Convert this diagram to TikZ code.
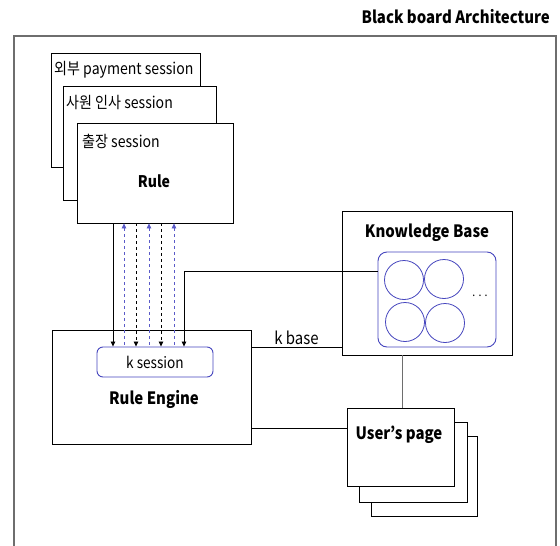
\documentclass[tikz,border=0pt]{standalone}
\usepackage{fontspec}
\setmainfont{Noto Sans CJK KR}[FakeStretch=0.88]
\usetikzlibrary{arrows.meta}
\definecolor{bblue}{RGB}{70,70,190}
\definecolor{dblue}{RGB}{90,90,200}
\definecolor{frame}{RGB}{110,110,110}
\tikzset{
  box/.style={draw=black, fill=white, line width=0.8pt, inner sep=0pt},
  bluebox/.style={draw=bblue, fill=white, line width=0.9pt, rounded corners=6pt, inner sep=0pt},
  circ/.style={draw=bblue, circle, line width=0.8pt, minimum size=39pt, inner sep=0pt},
  lbl/.style={font=\fontsize{16}{18}\selectfont, anchor=west, inner sep=0pt},
  bold/.style={font=\fontsize{17}{19}\selectfont\bfseries, inner sep=0pt},
  conn/.style={draw=black, line width=0.8pt},
  tip/.style={-{Triangle[length=5pt,width=4.5pt]}},
  rtip/.style={{Triangle[length=5pt,width=4.5pt]}-},
}
\begin{document}
\begin{tikzpicture}[x=1pt,y=-1pt]
\useasboundingbox (0,0) rectangle (560,546);
\begin{scope}
\clip (0,0) rectangle (560,546);
\draw[frame, line width=1.5pt] (14,36) rectangle (556,560);
\end{scope}
\node[font=\fontsize{17}{19}\selectfont\bfseries, anchor=east, inner sep=0pt] (title) at (550,17) {Black board Architecture};
% session stack
\node[box, minimum width=149pt, minimum height=114pt] (s1) at (125.5,110) {};
\node[lbl] (t1) at (54,70) {외부 payment session};
\node[box, minimum width=153pt, minimum height=114pt] (s2) at (139.5,143) {};
\node[lbl] (t2) at (66,103) {사원 인사 session};
\node[box, minimum width=156pt, minimum height=100pt] (rule) at (155,173) {};
\node[lbl] (t3) at (82,141) {출장 session};
\node[bold, font=\fontsize{16}{18}\selectfont\bfseries] (rulet) at (154,181) {Rule};
% rule engine
\node[box, minimum width=199pt, minimum height=114pt] (re) at (151.5,387) {};
\node[bluebox, minimum width=116pt, minimum height=30pt, font=\fontsize{15.5}{17}\selectfont] (ks) at (155,362) {k session};
\node[bold] (ret) at (154,399) {Rule Engine};
% knowledge base
\node[box, minimum width=170pt, minimum height=144pt] (kb) at (427,283) {};
\node[bold] (kbt) at (427,233) {Knowledge Base};
\node[bluebox, minimum width=118pt, minimum height=95pt, rounded corners=9pt] (inner) at (437,299.5) {};
\node[circ] (c1) at (404,280) {};
\node[circ] (c2) at (444,279) {};
\node[circ] (c3) at (405,322) {};
\node[circ] (c4) at (445,323) {};
\node[font=\fontsize{12}{14}\selectfont, inner sep=0pt] (dots) at (480,296) {. . .};
% user's page
\node[box, minimum width=106pt, minimum height=80pt] (u3) at (424,476) {};
\node[box, minimum width=108pt, minimum height=80pt] (u2) at (413,462) {};
\node[box, minimum width=107pt, minimum height=78pt] (up) at (400.5,447) {};
\node[bold] (upt) at (399,435) {User's page};
% arrows between Rule and k session
\coordinate (a1) at (113,0);
\coordinate (a2) at (124,0);
\coordinate (a3) at (136,0);
\coordinate (a4) at (149,0);
\coordinate (a5) at (161,0);
\coordinate (a6) at (174,0);
\coordinate (a7) at (184,271);
\draw[conn, tip] (rule.south -| a1) -- (ks.north -| a1);
\draw[draw=dblue, line width=0.8pt, dashed, rtip] (rule.south -| a2) -- (ks.north -| a2);
\draw[conn, dashed, tip] (rule.south -| a3) -- (ks.north -| a3);
\draw[draw=dblue, line width=0.8pt, dashed, rtip] (rule.south -| a4) -- (ks.north -| a4);
\draw[conn, dashed, tip] (rule.south -| a5) -- (ks.north -| a5);
\draw[draw=dblue, line width=0.8pt, dashed, rtip] (rule.south -| a6) -- (ks.north -| a6);
\draw[conn, tip] (inner.west |- a7) -- (a7) -- (ks.north -| a7);
% k base
\coordinate (kbl) at (0,347);
\draw[conn] (re.east |- kbl) -- node[above, font=\fontsize{17}{19}\selectfont, inner sep=2pt] {k base} (kb.west |- kbl);
% rule engine to user page
\coordinate (upl) at (0,428);
\draw[conn] (re.east |- upl) -- (up.west |- upl);
% kb to user page
\coordinate (kbu) at (402,0);
\draw[draw=frame, line width=0.9pt] (kb.south -| kbu) -- (up.north -| kbu);
\end{tikzpicture}
\end{document}
